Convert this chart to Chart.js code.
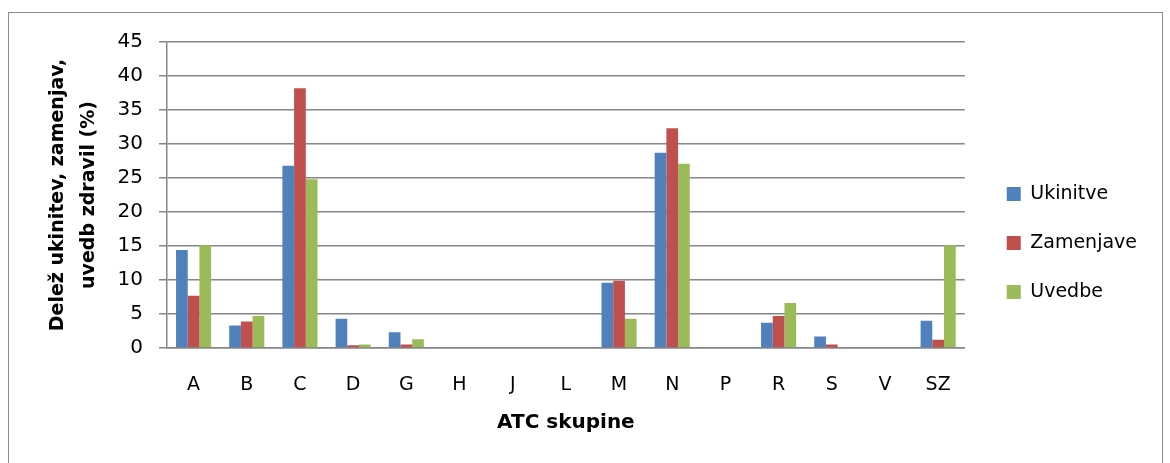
<!DOCTYPE html>
<html>
<head>
<meta charset="utf-8">
<script src="https://cdn.jsdelivr.net/npm/chart.js@4.4.0/dist/chart.umd.min.js"></script>
<style>
  body { margin: 0; background: #fff; }
  #box {
    position: absolute; left: 8px; top: 12px;
    width: 1153px; height: 460px;
    border: 1px solid #8c8c8c;
  }
</style>
</head>
<body>
<div id="box"><canvas id="atcChart" width="1153" height="460"></canvas></div>
<script>
// ATC skupine - podatki
const categories = ["A", "B", "C", "D", "G", "H", "J", "L", "M", "N", "P", "R", "S", "V", "SZ"];
const ukinitve   = [14.4, 3.3, 26.8, 4.3, 2.3, 0, 0, 0, 9.6, 28.7, 0, 3.7, 1.7, 0, 4.0];
const zamenjave  = [7.7, 3.9, 38.2, 0.4, 0.5, 0, 0, 0, 9.9, 32.3, 0, 4.7, 0.5, 0, 1.2];
const uvedbe     = [15.1, 4.7, 24.8, 0.5, 1.3, 0, 0, 0, 4.3, 27.1, 0, 6.6, 0, 0, 15.1];
const yTicks     = [0, 5, 10, 15, 20, 25, 30, 35, 40, 45];

const font = "'DejaVu Sans', sans-serif";

// move legend a bit right, away from the plot
const legendShift = {
  id: "legendShift",
  afterLayout: function(chart) {
    chart.legend.left += 12;
    chart.legend.right += 12;
  }
};

const ctx = document.getElementById("atcChart").getContext("2d");
new Chart(ctx, {
  type: "bar",
  data: {
    labels: categories,
    datasets: [
      { label: "Ukinitve", data: ukinitve, backgroundColor: "#4F81BD" },
      { label: "Zamenjave", data: zamenjave, backgroundColor: "#C0504D" },
      { label: "Uvedbe", data: uvedbe, backgroundColor: "#9BBB59" }
    ]
  },
  plugins: [legendShift],
  options: {
    responsive: false,
    animation: false,
    layout: { padding: { top: 0, right: 27, bottom: 0, left: 0 } },
    datasets: {
      bar: { categoryPercentage: 0.66, barPercentage: 1.0 }
    },
    plugins: {
      tooltip: { enabled: false },
      // empty title, only reserves space above the plot
      title: {
        display: true, text: "", fullSize: false,
        font: { size: 1, lineHeight: 1 },
        padding: { top: 28, bottom: 0 }
      },
      legend: {
        position: "right",
        labels: {
          font: { family: font, size: 19 },
          color: "#000",
          boxWidth: 14,
          boxHeight: 14,
          padding: 30
        }
      }
    },
    scales: {
      x: {
        grid: { display: false, drawTicks: false },
        border: { color: "#868686", width: 1.5 },
        ticks: { font: { family: font, size: 19 }, color: "#000", padding: 26 },
        title: {
          display: true, text: "ATC skupine",
          font: { family: font, size: 20, weight: "bold" }, color: "#000",
          padding: { top: 0, bottom: 38 }
        },
        afterFit: function(scale) { scale.height = 125; }
      },
      y: {
        min: 0, max: 45,
        afterBuildTicks: function(scale) {
          scale.ticks = yTicks.map(function(v) { return { value: v }; });
        },
        grid: { color: "#868686", lineWidth: 1.5, tickLength: 8 },
        border: { color: "#868686", width: 1.5 },
        ticks: { font: { family: font, size: 20 }, color: "#000", padding: 16 },
        title: {
          display: true, text: ["Delež ukinitev, zamenjav,", "uvedb zdravil (%)"],
          font: { family: font, size: 19, weight: "bold", lineHeight: 1.6 }, color: "#000",
          padding: { top: 34, bottom: 0 }
        },
        afterFit: function(scale) { scale.width = 158; }
      }
    }
  }
});
</script>
</body>
</html>
